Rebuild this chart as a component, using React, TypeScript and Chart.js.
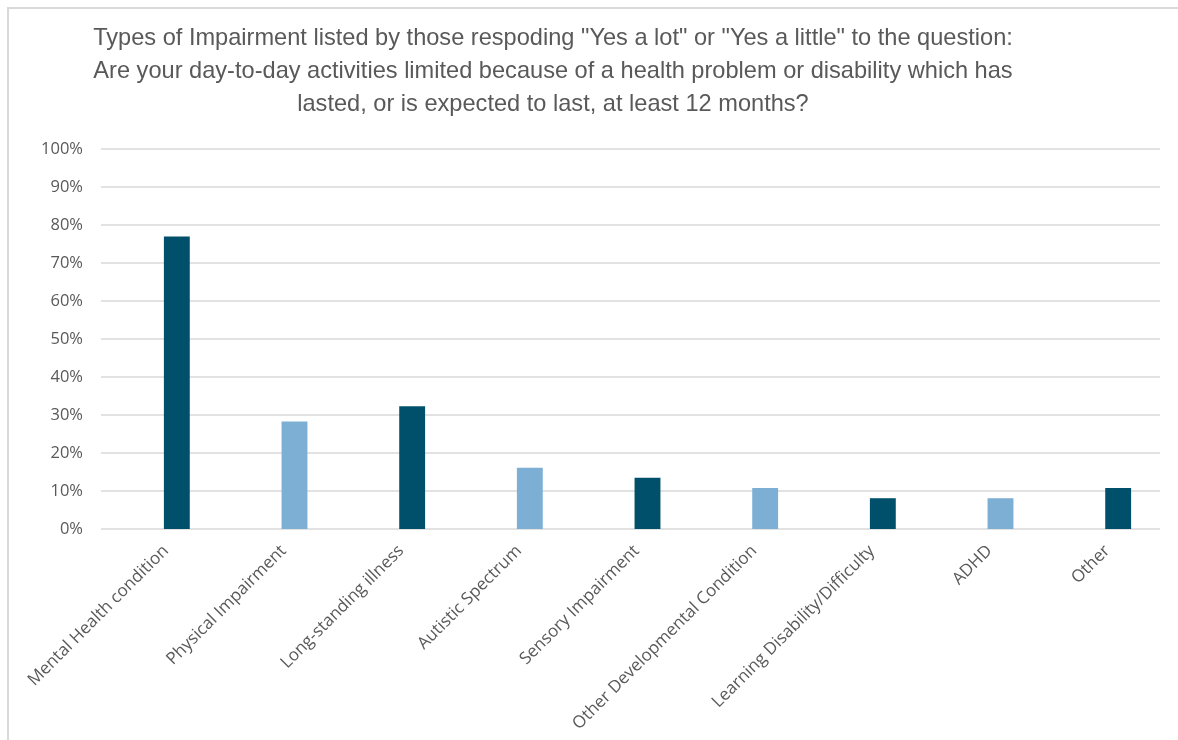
import { useEffect, useRef } from "react";
import { Chart, registerables } from "chart.js";

Chart.register(...registerables);

const TITLE_LINES = [
  'Types of Impairment listed by those respoding "Yes a lot" or "Yes a little" to the question:',
  "Are your day-to-day activities limited because of a health problem or disability which has",
  "lasted, or is expected to last, at least 12 months?",
];

const CATEGORIES = [
  "Mental Health condition",
  "Physical Impairment",
  "Long-standing illness",
  "Autistic Spectrum",
  "Sensory Impairment",
  "Other Developmental Condition",
  "Learning Disability/Difficulty",
  "ADHD",
  "Other",
];

const VALUES = [77, 28.3, 32.3, 16.1, 13.5, 10.8, 8.1, 8.1, 10.8];

const BAR_COLORS = [
  "#00506B",
  "#7DAFD4",
  "#00506B",
  "#7DAFD4",
  "#00506B",
  "#7DAFD4",
  "#00506B",
  "#7DAFD4",
  "#00506B",
];

const Y_MIN = 0;
const Y_MAX = 100;
const Y_STEP = 10;

const TEXT_COLOR = "#595959";
const GRID_COLOR = "#d9d9d9";
const GRID_SHIFT = 17;

const shiftedGrid = {
  id: "shiftedGrid",
  beforeDatasetsDraw(chart: any) {
    const { ctx, chartArea, scales } = chart;
    const y = scales.y;
    ctx.save();
    ctx.strokeStyle = GRID_COLOR;
    ctx.lineWidth = 1.5;
    y.ticks.forEach((t: any) => {
      const py = Math.round(y.getPixelForValue(t.value));
      ctx.beginPath();
      ctx.moveTo(chartArea.left - GRID_SHIFT, py);
      ctx.lineTo(chartArea.right - GRID_SHIFT, py);
      ctx.stroke();
    });
    ctx.restore();
  },
};

const titlePlugin = {
  id: "multiTitle",
  afterDraw(chart: any) {
    const { ctx } = chart;
    ctx.save();
    ctx.fillStyle = TEXT_COLOR;
    ctx.font = '23.6px "Liberation Sans", sans-serif';
    ctx.textAlign = "center";
    ctx.textBaseline = "middle";
    TITLE_LINES.forEach((line, i) => {
      ctx.fillText(line, 553, 38 + i * 33);
    });
    ctx.restore();
  },
};

export default function App() {
  const canvasRef = useRef<HTMLCanvasElement | null>(null);

  useEffect(() => {
    if (!canvasRef.current) return;
    const chart = new Chart(canvasRef.current, {
      type: "bar",
      data: {
        labels: CATEGORIES,
        datasets: [
          {
            data: VALUES,
            backgroundColor: BAR_COLORS,
            borderWidth: 0,
            barPercentage: 0.22,
            categoryPercentage: 1,
          },
        ],
      },
      options: {
        animation: false,
        responsive: true,
        maintainAspectRatio: false,
        layout: { padding: { top: 149, right: 1, left: 0, bottom: 0 } },
        plugins: {
          legend: { display: false },
          title: { display: false },
          tooltip: { enabled: false },
        },
        scales: {
          x: {
            grid: { display: false, drawTicks: false },
            border: { display: false },
            ticks: {
              autoSkip: false,
              maxRotation: 45,
              minRotation: 45,
              color: TEXT_COLOR,
              font: { family: '"Open Sans", sans-serif', size: 17 },
              padding: 12,
              labelOffset: -11,
            },
            afterFit: (scale: any) => {
              scale.height = 211;
            },
          },
          y: {
            min: Y_MIN,
            max: Y_MAX,
            grid: { display: false, drawTicks: false },
            border: { display: false },
            ticks: {
              stepSize: Y_STEP,
              color: TEXT_COLOR,
              font: { family: '"Open Sans", sans-serif', size: 16.5 },
              padding: 35,
              callback: (v: any) => `${v}%`,
            },
            afterFit: (scale: any) => {
              scale.width = 118;
            },
          },
        },
      },
      plugins: [shiftedGrid, titlePlugin],
    });
    return () => chart.destroy();
  }, []);

  return (
    <div
      style={{
        position: "absolute",
        left: 0,
        top: 0,
        width: 1178,
        height: 740,
        background: "#ffffff",
        overflow: "hidden",
      }}
    >
      <div
        style={{
          position: "absolute",
          left: 7,
          top: 7,
          width: 1171,
          height: 733,
          borderTop: `2px solid ${GRID_COLOR}`,
          borderLeft: `2px solid ${GRID_COLOR}`,
          boxSizing: "border-box",
        }}
      />
      <canvas ref={canvasRef} style={{ position: "absolute", left: 0, top: 0, width: 1178, height: 740 }} />
    </div>
  );
}
